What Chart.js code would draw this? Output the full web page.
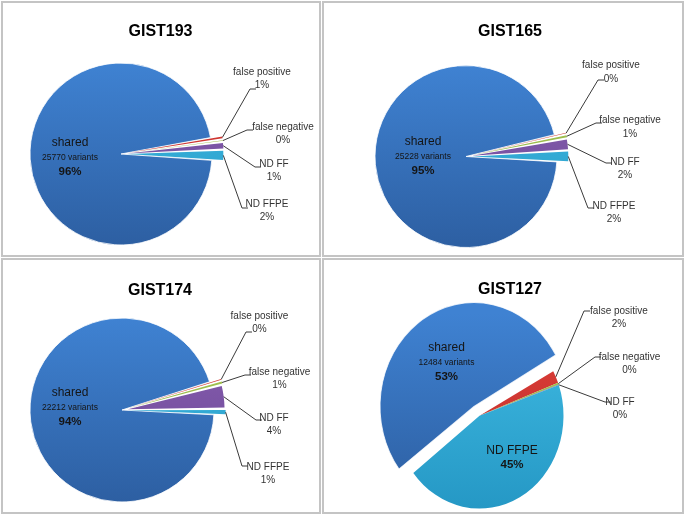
<!DOCTYPE html>
<html>
<head>
<meta charset="utf-8">
<script src="https://cdn.jsdelivr.net/npm/chart.js@4.4.0/dist/chart.umd.min.js"></script>
<style>
  body { margin: 0; background: #fff; width: 685px; height: 515px; position: relative; overflow: hidden; }
  .panel { position: absolute; border: 2px solid #c4c4c4; box-sizing: border-box; }
  .panel canvas { position: absolute; left: -2px; top: -2px; }
</style>
</head>
<body>
<div class="panel" style="left:1px;top:1px;width:320px;height:256px"><canvas id="c1" width="320" height="256"></canvas></div>
<div class="panel" style="left:322px;top:1px;width:362px;height:256px"><canvas id="c2" width="362" height="256"></canvas></div>
<div class="panel" style="left:1px;top:258px;width:320px;height:256px"><canvas id="c3" width="320" height="256"></canvas></div>
<div class="panel" style="left:322px;top:258px;width:362px;height:256px"><canvas id="c4" width="362" height="256"></canvas></div>
<script>
// data (percent of all variants)
const categories = ['shared', 'false positive', 'false negative', 'ND FF', 'ND FFPE'];
const sampleNames = ['GIST193', 'GIST165', 'GIST174', 'GIST127'];
const sharedVariants = [25770, 25228, 22212, 12484];
const gist193 = [96.0, 0.6, 0.4, 1.2, 1.8];
const gist165 = [95.2, 0.4, 0.6, 1.9, 1.9];
const gist174 = [94.2, 0.4, 0.6, 3.8, 1.0];
const gist127 = [52.6, 2.2, 0.3, 0.1, 44.8];

// slice colours: [top, bottom] of the shading
const sliceColors = [
  ['#3f82d2', '#2d5fa2'],
  ['#e0403a', '#b82a26'],
  ['#aacb58', '#8aa83c'],
  ['#8a62b4', '#6a4492'],
  ['#40bbe3', '#2598c5']
];

// per panel placement, offsets relative to the pie centre
// (chart.js moves an arc by offset/4)
const layouts = [
  {
    center: [120, 153], radius: 91, rotation: 94, offset: [0, 24, 24, 24, 24], title: [159.5, 30.5], stretch: 1,
    inside: [{ i: 0, at: [-51, -11], name: true }],
    outside: [
      { i: 1, at: [141, -82], end: [135, -65] },
      { i: 2, at: [162, -27], end: [132, -24] },
      { i: 3, at: [153, 10], end: [140, 13] },
      { i: 4, at: [146, 50], end: [127, 54] }
    ]
  },
  {
    center: [144, 155.5], radius: 91, rotation: 93.4, offset: [0, 24, 24, 24, 24], title: [188, 31], stretch: 1,
    inside: [{ i: 0, at: [-43, -14.5], name: true }],
    outside: [
      { i: 1, at: [145, -91], end: [138, -76.5] },
      { i: 2, at: [164, -36], end: [136, -33.5] },
      { i: 3, at: [159, 5.5], end: [146, 6.5] },
      { i: 4, at: [148, 49.5], end: [128, 51.5] }
    ]
  },
  {
    center: [121, 152], radius: 92, rotation: 93, offset: [0, 24, 24, 24, 24], title: [159, 32.5], stretch: 1,
    inside: [{ i: 0, at: [-52, -17], name: true }],
    outside: [
      { i: 1, at: [137.5, -94], end: [130, -78] },
      { i: 2, at: [157.5, -38], end: [129, -35] },
      { i: 3, at: [152, 8], end: [140, 10] },
      { i: 4, at: [146, 57], end: [126, 56] }
    ]
  },
  {
    center: [157.5, 157.7], radius: 84, rotation: 232, offset: [40, 0, 0, 0, 0], title: [188, 32], stretch: 1.106,
    inside: [{ i: 0, at: [-33, -67.7], name: true }, { i: 4, at: [32.5, 35.3] }],
    outside: [
      { i: 1, at: [139.5, -104.7], end: [110.5, -104.7] },
      { i: 2, at: [150, -58.7], end: [121.5, -58.7] },
      { i: 3, at: [140.5, -13.7], end: [131.5, -13.7] }
    ]
  }
];

const FONT = '"Liberation Sans", Arial, sans-serif';

const sliceLabels = {
  id: 'sliceLabels',
  beforeDatasetsDraw(chart, args, opts) {
    const k = opts.layout.stretch;
    const cy = chart.getDatasetMeta(0).data[0].y;
    chart.ctx.save();
    chart.ctx.translate(0, cy);
    chart.ctx.scale(1, k);
    chart.ctx.translate(0, -cy);
  },
  afterDatasetsDraw(chart, args, opts) {
    const L = opts.layout;
    const ctx = chart.ctx;
    ctx.restore();

    const arcs = chart.getDatasetMeta(0).data;
    const values = chart.data.datasets[0].data;
    const pct = i => Math.round(values[i]) + '%';

    ctx.save();
    ctx.textAlign = 'center';
    ctx.textBaseline = 'middle';

    ctx.fillStyle = '#000';
    ctx.font = 'bold 16px ' + FONT;
    ctx.fillText(opts.title, L.title[0], L.title[1]);

    L.inside.forEach(o => {
      const a = arcs[o.i];
      const x = a.x + o.at[0], y = a.y + o.at[1];
      ctx.fillStyle = '#151515';
      ctx.font = '12px ' + FONT;
      ctx.fillText(chart.data.labels[o.i], x, y);
      if (o.name) {
        ctx.font = '8.5px ' + FONT;
        ctx.fillText(opts.variants + ' variants', x, y + 15);
        ctx.font = 'bold 11.5px ' + FONT;
        ctx.fillText(pct(o.i), x, y + 29);
      } else {
        ctx.font = 'bold 11.5px ' + FONT;
        ctx.fillText(pct(o.i), x, y + 14);
      }
    });

    ctx.strokeStyle = '#3a3a3a';
    ctx.lineWidth = 1;
    L.outside.forEach(o => {
      const a = arcs[o.i];
      const mid = (a.startAngle + a.endAngle) / 2;
      const t = (a.options.offset || 0) / 4;
      const fix = 1 - Math.sin(Math.min(Math.PI, a.circumference));
      const r = a.outerRadius + t * fix + t;
      const sx = a.x + Math.cos(mid) * r;
      const sy = a.y + Math.sin(mid) * r * L.stretch;
      const ex = a.x + o.end[0], ey = a.y + o.end[1];
      ctx.beginPath();
      ctx.moveTo(sx, sy);
      ctx.lineTo(ex - 6, ey);
      ctx.lineTo(ex, ey);
      ctx.stroke();

      const tx = a.x + o.at[0], ty = a.y + o.at[1];
      ctx.fillStyle = '#333';
      ctx.font = '10px ' + FONT;
      ctx.fillText(chart.data.labels[o.i], tx, ty);
      ctx.fillText(pct(o.i), tx, ty + 13.5);
    });
    ctx.restore();
  }
};

function makePie(id, k, values) {
  const L = layouts[k];
  const canvas = document.getElementById(id);
  const W = canvas.width, H = canvas.height;
  const s = 60; // half size of the chart area, only has to be larger than the offsets
  const cx = L.center[0], cy = L.center[1], r = L.radius;

  const shade = context => {
    const g = context.chart.ctx.createLinearGradient(0, cy - r, 0, cy + r);
    const c = sliceColors[context.dataIndex];
    g.addColorStop(0, c[0]);
    g.addColorStop(1, c[1]);
    return g;
  };

  return new Chart(canvas, {
    type: 'pie',
    data: {
      labels: categories,
      datasets: [{
        data: values,
        backgroundColor: shade,
        borderColor: 'rgba(255,255,255,0.8)',
        borderWidth: [1, 0, 0, 0, 0],
        offset: L.offset
      }]
    },
    options: {
      responsive: false,
      animation: false,
      events: [],
      radius: r,
      rotation: L.rotation,
      layout: {
        padding: { left: cx - s, right: W - cx - s, top: cy - s, bottom: H - cy - s }
      },
      plugins: {
        legend: { display: false },
        tooltip: { enabled: false },
        sliceLabels: { layout: L, title: sampleNames[k], variants: sharedVariants[k] }
      }
    },
    plugins: [sliceLabels]
  });
}

makePie('c1', 0, gist193);
makePie('c2', 1, gist165);
makePie('c3', 2, gist174);
makePie('c4', 3, gist127);
</script>
</body>
</html>
